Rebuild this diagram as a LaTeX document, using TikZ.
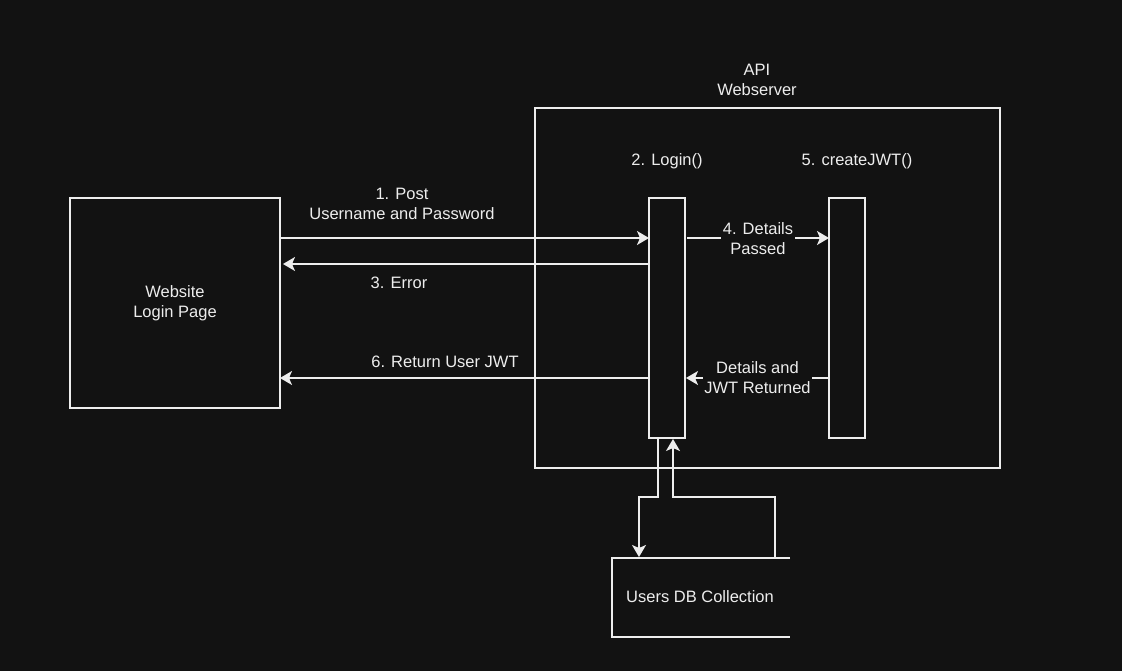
\documentclass[tikz,border=0pt]{standalone}
\usepackage{fontspec}
\setmainfont{Liberation Sans}
\usetikzlibrary{arrows.meta}
\definecolor{bg}{HTML}{121212}
\definecolor{fg}{HTML}{EDEDED}
\begin{document}
\begin{tikzpicture}[x=1pt,y=-1pt,
  every node/.style={font=\fontsize{16.5}{20}\selectfont, text=fg, align=center},
  ln/.style={draw=fg, line width=1.4pt},
  arr/.style={ln, -{Stealth[length=12pt,width=14pt,inset=3pt]}},
  lbl/.style={fill=bg, inner sep=1.5pt}]
\fill[bg] (0,0) rectangle (1122,671);
\useasboundingbox (0,0) rectangle (1122,671);
% boxes
\draw[ln] (70,198) rectangle (280,408);
\node (web) at (175,303) {Website\\Login Page};
\draw[ln] (535,108) rectangle (1000,468);
\node (apil) at (757,80) {API\\Webserver};
\draw[ln] (649,198) rectangle (685,438);
\node (loginl) at (667,161) {2. Login()};
\draw[ln] (829,198) rectangle (865,438);
\node (jwtl) at (857,161) {5. createJWT()};
% coordinates
\coordinate (webR1) at (280,238);
\coordinate (logL1) at (649,238);
\coordinate (logL3) at (649,264);
\coordinate (webR3) at (283,264);
\coordinate (logL6) at (649,378);
\coordinate (webR6) at (280,378);
\coordinate (logR4) at (687,238);
\coordinate (jwtL4) at (829,238);
\coordinate (jwtL5) at (829,378);
\coordinate (logR5) at (686,378);
\coordinate (logB1) at (658,438);
\coordinate (dbT1) at (639,557);
\coordinate (dbT2) at (775,558);
\coordinate (logB2) at (673,439);
% arrows
\draw[arr] (webR1) -- (logL1);
\node at (402,204) {1. Post\\Username and Password};
\draw[arr] (logL3) -- (webR3);
\node at (399,283) {3. Error};
\draw[arr] (logL6) -- (webR6);
\node at (445,362) {6. Return User JWT};
\draw[arr] (logR4) -- node[lbl, pos=0.5, yshift=-1pt] {4. Details\\Passed} (jwtL4);
\draw[arr] (jwtL5) -- node[lbl, pos=0.5] {Details and\\JWT Returned} (logR5);
% DB
\draw[ln] (790,558) -- (612,558) -- (612,637) -- (790,637);
\node (db) at (700,597) {Users DB Collection};
\draw[arr] (logB1) -- (658,497) -- (639,497) -- (dbT1);
\draw[arr] (dbT2) -- (775,497) -- (673,497) -- (logB2);
\end{tikzpicture}
\end{document}
